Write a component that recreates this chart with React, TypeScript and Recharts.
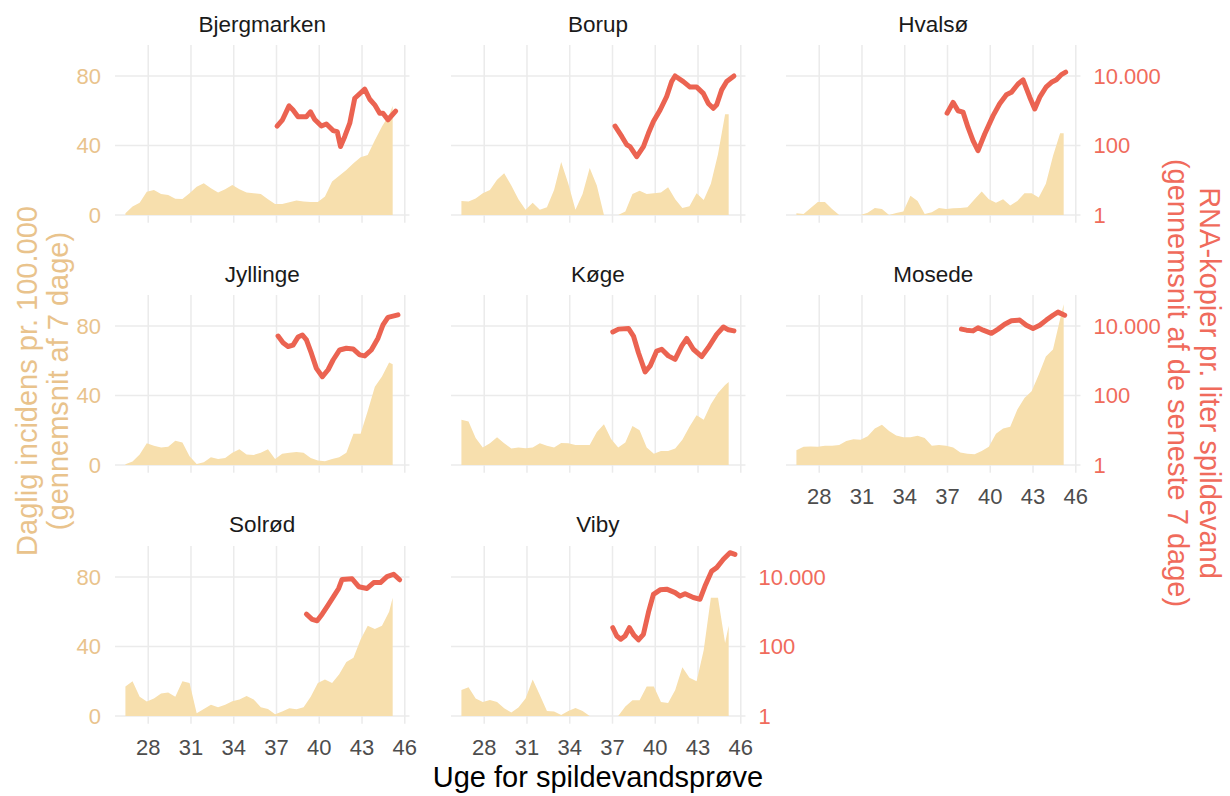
import React from 'react';
import { Area, CartesianGrid, ComposedChart, Line, XAxis, YAxis } from 'recharts';

// uge (x) for de daglige incidens-værdier
const weeks = [26.4, 26.9, 27.4, 27.9, 28.4, 28.9, 29.4, 29.9, 30.4, 30.9, 31.4, 31.9, 32.4, 32.9, 33.4, 33.9, 34.4, 34.9, 35.4, 35.9, 36.4, 36.9, 37.4, 37.9, 38.4, 38.9, 39.4, 39.9, 40.4, 40.9, 41.4, 41.9, 42.4, 42.9, 43.4, 43.9, 44.4, 44.9, 45.15];
const weekTicks = [28, 31, 34, 37, 40, 43, 46];
const incTicks = [0, 40, 80];
const rnaTicks = [1, 100, 10000];

// daglig incidens pr. 100.000
const incBjergmarken = [1, 4.8, 7, 13.4, 14.4, 12, 11.5, 9.4, 9.2, 12.5, 16.3, 18.2, 15.4, 12.9, 14.8, 17.3, 14.8, 12.9, 12.5, 12.1, 9, 6.3, 6.3, 7.3, 8.3, 7.7, 7.5, 7.5, 10.6, 19.2, 22.6, 25.9, 29.8, 33.2, 34.5, 43, 51, 57.6, 62.8];
const incBorup = [8, 7.7, 9.5, 12.5, 14.4, 20.2, 24, 17, 9, 3, 7, 3, 4.5, 14.4, 30.5, 18, 3, 12, 27, 17, 0, 0, 0, 2, 12, 14, 12, 12.5, 13, 16, 9, 4, 5, 12.5, 8.6, 18, 35, 58, 58];
const incHvalso = [1, 0.5, 4, 7.5, 7.5, 3.5, 0, 0, 0, 0, 1.3, 4, 3.5, 0, 1.2, 2, 11, 8, 0.5, 1.5, 4, 3.5, 3.8, 4, 4.5, 9, 13.5, 9, 7, 9, 5.5, 8, 12.5, 12.5, 10, 18, 34, 47, 47];
const incJyllinge = [0.4, 2, 6, 12.5, 11, 10, 10.5, 14, 13, 5, 0.5, 1.5, 4.5, 3.5, 4, 7, 9, 6, 5.8, 7, 9, 3.5, 6.5, 7, 7.5, 7, 4, 2.5, 2.2, 3.5, 4.5, 7, 18, 18, 31, 45, 51, 59, 58];
const incKoge = [26, 25, 15.5, 10, 12.5, 16, 12.5, 9.5, 10, 9.6, 10, 12.5, 11, 10, 12.7, 12.5, 11.5, 11.5, 11.5, 19, 23.5, 15, 10, 13, 22.5, 20, 10, 6.5, 8, 8, 9.5, 14.5, 22, 28.6, 26, 35, 41.5, 46, 47.8];
const incMosede = [8.5, 10.5, 10.6, 10.5, 11, 11, 11.5, 13.8, 14.8, 14.5, 16.5, 21, 23.2, 19.5, 17, 16, 16, 16.8, 15.5, 11, 11.5, 11, 10, 7.2, 6.5, 6.2, 8, 10.5, 18, 21, 22, 32, 38.5, 42.5, 52, 62.5, 66.5, 84, 92.5];
const incSolrod = [17, 20, 11, 8.3, 10, 13, 13.5, 11, 20, 19, 1.5, 4, 6.5, 5, 6.5, 8.5, 9.5, 11.5, 9.5, 5, 4, 1, 2.5, 4.5, 3.8, 5, 11, 19, 21, 19, 24, 31, 33.5, 44, 52, 50, 52, 60, 68];
const incViby = [15, 16.5, 10, 8, 9.2, 8, 4.5, 2, 4.8, 10, 21, 12, 2.8, 2.5, 0.5, 2.8, 4.6, 2.8, 0, 0, 0, 0, 0, 5.5, 9, 9, 17, 17, 8, 7.5, 15, 28, 22, 20, 38, 68, 68, 42, 52];

// RNA-kopier pr. liter spildevand (uge, værdi)
const rnaWeeksBjergmarken = [37.04, 37.42, 37.88, 38.16, 38.51, 39.1, 39.38, 39.68, 40.15, 40.5, 40.97, 41.26, 41.49, 41.79, 42.14, 42.49, 43.19, 43.54, 43.89, 44.24, 44.47, 44.82, 45.36];
const rnaBjergmarken = [363, 550, 1380, 1050, 676, 676, 933, 562, 363, 417, 269, 251, 93, 182, 437, 2290, 4170, 2140, 1480, 851, 851, 550, 977];
const rnaWeeksBorup = [37.18, 37.65, 38.0, 38.23, 38.7, 39.17, 39.52, 39.87, 40.34, 40.8, 41.15, 41.39, 41.97, 42.44, 42.91, 43.37, 43.72, 44.07, 44.31, 44.66, 45.01, 45.52];
const rnaBorup = [363, 182, 105, 93, 48, 93, 224, 490, 1050, 2570, 6920, 10000, 6920, 4790, 4790, 3160, 1620, 1175, 1480, 3980, 6920, 10000];
const rnaWeeksHvalso = [36.97, 37.39, 37.74, 38.09, 38.44, 38.79, 39.14, 39.61, 40.2, 40.66, 41.13, 41.48, 41.95, 42.3, 42.77, 43.12, 43.47, 43.93, 44.29, 44.64, 44.99, 45.29];
const rnaHvalso = [851, 1740, 1000, 912, 331, 138, 71, 214, 724, 1585, 2880, 3390, 5890, 7760, 2455, 1122, 2455, 4900, 6600, 7760, 10960, 12880];
const rnaWeeksJyllinge = [37.11, 37.46, 37.81, 38.16, 38.51, 38.82, 39.1, 39.45, 39.8, 40.22, 40.62, 40.97, 41.43, 41.9, 42.37, 42.84, 43.19, 43.65, 44.12, 44.47, 44.82, 45.52];
const rnaJyllinge = [5130, 3310, 2570, 2820, 4790, 5500, 3980, 1620, 603, 347, 550, 1050, 2040, 2290, 2190, 1480, 1380, 2040, 4470, 10700, 17800, 20900];
const rnaWeeksKoge = [37.02, 37.42, 38.12, 38.47, 38.82, 39.29, 39.64, 40.1, 40.45, 40.92, 41.39, 41.86, 42.21, 42.67, 43.26, 43.72, 44.31, 44.78, 45.13, 45.52];
const rnaKoge = [6760, 8130, 8510, 5130, 1700, 479, 708, 1905, 2140, 1380, 1096, 2690, 4370, 2140, 1320, 2400, 5750, 9330, 7760, 7240];
const rnaWeeksMosede = [37.98, 38.33, 38.79, 39.14, 39.5, 40.08, 40.55, 41.01, 41.48, 42.07, 42.53, 43.0, 43.47, 43.93, 44.4, 44.75, 45.22];
const rnaMosede = [8130, 7590, 7240, 8910, 7590, 6170, 8130, 11220, 14130, 14790, 10470, 8510, 10470, 14790, 20400, 25100, 20400];
const rnaWeeksSolrod = [39.1, 39.5, 39.85, 40.2, 40.55, 41.01, 41.36, 41.6, 42.3, 42.77, 43.35, 43.82, 44.29, 44.75, 45.22, 45.64];
const rnaSolrod = [851, 603, 550, 851, 1410, 2750, 4680, 8510, 8910, 5250, 4680, 6920, 6920, 10230, 12020, 8320];
const rnaWeeksViby = [37.02, 37.3, 37.58, 37.88, 38.19, 38.51, 38.82, 39.17, 39.52, 39.87, 40.34, 40.8, 41.39, 41.74, 42.09, 42.67, 43.14, 43.49, 43.96, 44.31, 44.78, 45.24, 45.59];
const rnaViby = [347, 200, 162, 200, 347, 209, 155, 224, 955, 3160, 4270, 4470, 3550, 2820, 3310, 2570, 2290, 5500, 14790, 18620, 32360, 50100, 44670];

const panels = [
  { name: 'Bjergmarken', inc: incBjergmarken, rw: rnaWeeksBjergmarken, rna: rnaBjergmarken },
  { name: 'Borup', inc: incBorup, rw: rnaWeeksBorup, rna: rnaBorup },
  { name: 'Hvalsø', inc: incHvalso, rw: rnaWeeksHvalso, rna: rnaHvalso },
  { name: 'Jyllinge', inc: incJyllinge, rw: rnaWeeksJyllinge, rna: rnaJyllinge },
  { name: 'Køge', inc: incKoge, rw: rnaWeeksKoge, rna: rnaKoge },
  { name: 'Mosede', inc: incMosede, rw: rnaWeeksMosede, rna: rnaMosede },
  { name: 'Solrød', inc: incSolrod, rw: rnaWeeksSolrod, rna: rnaSolrod },
  { name: 'Viby', inc: incViby, rw: rnaWeeksViby, rna: rnaViby },
];

const FONT = '"Liberation Sans", Arial, sans-serif';
const TAN = '#E9C38C';
const RED = '#EB6351';
const RED_TEXT = '#F06B5C';
const WHEAT = '#F7DFAD';
const GRID = '#EBEBEB';

const X_DOMAIN = [25.67, 46.33];
const INC_DOMAIN = [-4.45, 97.85];
const RNA_DOMAIN = [0.599, 78070];

const COL_X = [115, 450.7, 786];
const ROW_Y = [45, 295.3, 545.6];
const PW = 294.5;
const PH = 177.7;
const LW = 70;
const RW = 110;
const TOP = 5;
const XH = 45;

const fmt = (n: number) => String(n).replace(/\B(?=(\d{3})+(?!\d))/g, '.');

function rows(inc: number[], rw: number[], rna: number[]) {
  const out: { week: number; inc?: number; rna?: number }[] = [];
  weeks.forEach((w, i) => out.push({ week: w, inc: inc[i] }));
  rw.forEach((w, i) => out.push({ week: w, rna: rna[i] }));
  return out.sort((a, b) => a.week - b.week);
}

// gitterlinjer kun ved akse-ticks (ggplot-stil)
const vGrid = (props: any) => {
  const left = props?.offset?.left ?? LW;
  const width = props?.offset?.width ?? PW;
  return weekTicks.map((t) => left + ((t - X_DOMAIN[0]) / (X_DOMAIN[1] - X_DOMAIN[0])) * width);
};
const hGrid = (props: any) => {
  const top = props?.offset?.top ?? TOP;
  const height = props?.offset?.height ?? PH;
  return incTicks.map((t) => top + (1 - (t - INC_DOMAIN[0]) / (INC_DOMAIN[1] - INC_DOMAIN[0])) * height);
};

function Panel({ idx }: { idx: number }) {
  const p = panels[idx];
  const col = idx % 3;
  const row = Math.floor(idx / 3);
  const showLeft = col === 0;
  const showRight = idx === 2 || idx === 5 || idx === 7;
  const showX = idx >= 5;
  const data = rows(p.inc, p.rw, p.rna);
  return (
    <div style={{ position: 'absolute', left: COL_X[col] - LW, top: ROW_Y[row] - TOP }}>
      <ComposedChart
        width={LW + PW + RW}
        height={TOP + PH + XH}
        data={data}
        margin={{ top: TOP, right: 0, bottom: 0, left: 0 }}
      >
        <CartesianGrid
          yAxisId="inc"
          stroke={GRID}
          strokeWidth={1.5}
          verticalCoordinatesGenerator={vGrid}
          horizontalCoordinatesGenerator={hGrid}
        />
        <XAxis
          dataKey="week"
          type="number"
          domain={X_DOMAIN}
          allowDataOverflow
          ticks={weekTicks}
          height={XH}
          axisLine={false}
          tickLine={false}
          tickSize={0}
          tickMargin={16}
          tick={showX ? { fill: '#4D4D4D', fontSize: 22, fontFamily: FONT } : false}
        />
        <YAxis
          yAxisId="inc"
          type="number"
          domain={INC_DOMAIN}
          allowDataOverflow
          ticks={incTicks}
          width={LW}
          axisLine={false}
          tickLine={false}
          tickSize={0}
          tickMargin={14}
          tick={showLeft ? { fill: TAN, fontSize: 22, fontFamily: FONT } : false}
        />
        <YAxis
          yAxisId="rna"
          orientation="right"
          type="number"
          scale="log"
          domain={RNA_DOMAIN}
          allowDataOverflow
          ticks={rnaTicks}
          tickFormatter={fmt}
          width={RW}
          axisLine={false}
          tickLine={false}
          tickSize={0}
          tickMargin={13}
          tick={showRight ? { fill: RED_TEXT, fontSize: 22, fontFamily: FONT } : false}
        />
        <Area
          yAxisId="inc"
          dataKey="inc"
          type="linear"
          fill={WHEAT}
          fillOpacity={1}
          stroke="none"
          baseValue={0}
          connectNulls
          isAnimationActive={false}
        />
        <Line
          yAxisId="rna"
          dataKey="rna"
          type="linear"
          stroke={RED}
          strokeWidth={5}
          strokeLinecap="round"
          strokeLinejoin="round"
          dot={false}
          activeDot={false}
          connectNulls
          isAnimationActive={false}
        />
      </ComposedChart>
    </div>
  );
}

export default function App() {
  return (
    <div
      style={{
        position: 'absolute',
        left: 0,
        top: 0,
        width: 1230,
        height: 796,
        background: '#fff',
        overflow: 'hidden',
        fontFamily: FONT,
      }}
    >
      {panels.map((_, i) => (
        <Panel key={i} idx={i} />
      ))}
      <svg
        width={1230}
        height={796}
        style={{ position: 'absolute', left: 0, top: 0, pointerEvents: 'none' }}
        fontFamily={FONT}
      >
        {panels.map((p, i) => (
          <text
            key={p.name}
            x={COL_X[i % 3] + PW / 2}
            y={31.5 + Math.floor(i / 3) * 250.3}
            textAnchor="middle"
            fontSize={22.5}
            fill="#1A1A1A"
          >
            {p.name}
          </text>
        ))}
        <text x={598} y={787} textAnchor="middle" fontSize={29} fill="#000">
          Uge for spildevandsprøve
        </text>
        <g fill={TAN} fontSize={29} textAnchor="middle">
          <text transform="translate(37,381) rotate(-90)">Daglig incidens pr. 100.000</text>
          <text transform="translate(68,381) rotate(-90)">(gennemsnit af 7 dage)</text>
        </g>
        <g fill={RED_TEXT} fontSize={29} textAnchor="middle">
          <text transform="translate(1200,383) rotate(90)">RNA-kopier pr. liter spildevand</text>
          <text transform="translate(1168,383) rotate(90)">(gennemsnit af de seneste 7 dage)</text>
        </g>
      </svg>
    </div>
  );
}
